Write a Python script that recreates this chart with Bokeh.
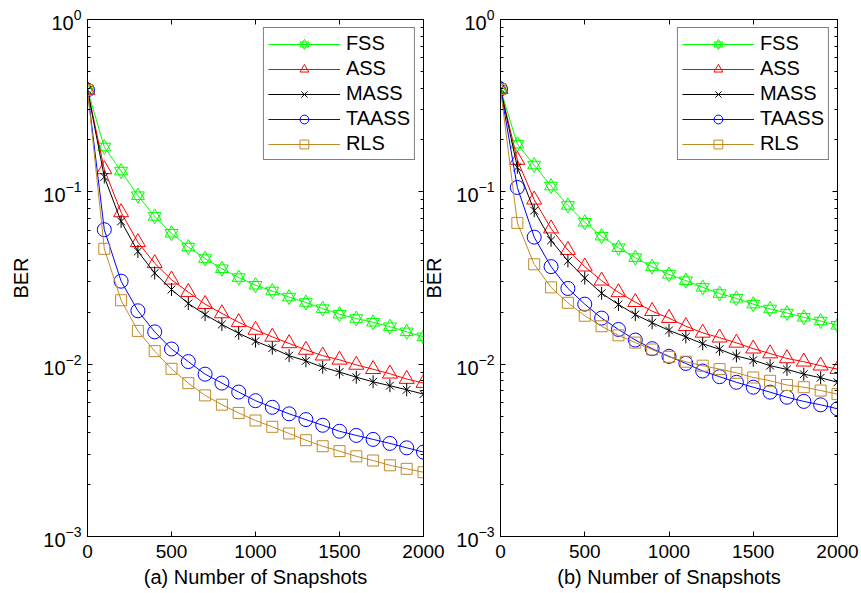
from bokeh.plotting import figure
from bokeh.models import Range1d, LinearAxis, LogAxis, LogTicker, SingleIntervalTicker, Legend, LegendItem
from bokeh.layouts import row
from bokeh.embed import file_html
from bokeh.resources import INLINE

snapshots = [0, 100, 200, 300, 400, 500, 600, 700, 800, 900, 1000,
             1100, 1200, 1300, 1400, 1500, 1600, 1700, 1800, 1900, 2000]

# panel (a)
fss_a = [0.39, 0.182, 0.132, 0.095, 0.072, 0.0575, 0.0478, 0.041, 0.0358, 0.0318, 0.0287,
         0.0266, 0.0245, 0.0228, 0.021, 0.0195, 0.0184, 0.0175, 0.0165, 0.0154, 0.0144]
ass_a = [0.39, 0.135, 0.076, 0.051, 0.0385, 0.0309, 0.0262, 0.0223, 0.0197, 0.0175, 0.0158,
         0.0144, 0.0132, 0.0121, 0.0112, 0.0106, 0.0099, 0.00935, 0.0088, 0.0082, 0.00777]
mass_a = [0.39, 0.122, 0.0674, 0.0451, 0.0338, 0.0271, 0.0225, 0.0194, 0.017, 0.0151, 0.0136,
          0.0124, 0.0112, 0.01045, 0.0096, 0.009, 0.0084, 0.0079, 0.0075, 0.0071, 0.0067]
taass_a = [0.39, 0.0603, 0.0303, 0.0204, 0.0154, 0.01225, 0.01035, 0.00875, 0.00777, 0.00689, 0.00614,
           0.00562, 0.00515, 0.00477, 0.00442, 0.00408, 0.00386, 0.00366, 0.00347, 0.00327, 0.00309]
rls_a = [0.39, 0.0467, 0.0235, 0.0156, 0.0119, 0.0094, 0.00776, 0.00659, 0.00582, 0.00521, 0.00471,
         0.00433, 0.00396, 0.00362, 0.00334, 0.00313, 0.00292, 0.00276, 0.00259, 0.00247, 0.00236]

# panel (b)
fss_b = [0.395, 0.189, 0.143, 0.108, 0.0834, 0.0666, 0.0553, 0.0474, 0.0415, 0.0368, 0.0332,
         0.0305, 0.0279, 0.0257, 0.0241, 0.0223, 0.0209, 0.0198, 0.0187, 0.0178, 0.0168]
ass_b = [0.395, 0.153, 0.090, 0.0612, 0.0459, 0.0368, 0.0305, 0.0261, 0.0229, 0.0203, 0.0185,
         0.0166, 0.0152, 0.01425, 0.0133, 0.0123, 0.01153, 0.0108, 0.01033, 0.0098, 0.00936]
mass_b = [0.395, 0.139, 0.0778, 0.0523, 0.0397, 0.0316, 0.0258, 0.0222, 0.0194, 0.0174, 0.0157,
          0.0144, 0.01314, 0.0122, 0.01116, 0.01054, 0.0098, 0.00932, 0.00875, 0.00834, 0.00785]
taass_b = [0.395, 0.106, 0.0546, 0.0368, 0.0275, 0.0223, 0.0185, 0.0159, 0.0138, 0.0123, 0.0111,
           0.0101, 0.00912, 0.00846, 0.00785, 0.00735, 0.00688, 0.00643, 0.00608, 0.00581, 0.00551]
rls_b = [0.395, 0.066, 0.038, 0.0279, 0.0227, 0.0191, 0.0166, 0.0147, 0.01334, 0.01216, 0.01103,
         0.01033, 0.0098, 0.00936, 0.00891, 0.00837, 0.00801, 0.00757, 0.00735, 0.00703, 0.0067]

series_names = ["FSS", "ASS", "MASS", "TAASS", "RLS"]
series_colors = ["#00FF00", "#FF0000", "#000000", "#0000FF", "#C08A2A"]
x_label_a = "(a) Number of Snapshots"
x_label_b = "(b) Number of Snapshots"
y_label = "BER"

FONT = "Liberation Sans"


def make_panel(xlabel, data, border_left, border_right, total_w):
    p = figure(width=total_w, height=593,
               y_axis_type="log", x_range=Range1d(0, 2000), y_range=Range1d(1e-3, 1),
               output_backend="svg", toolbar_location=None,
               min_border_left=border_left, min_border_right=border_right,
               min_border_top=19, min_border_bottom=57)
    p.grid.visible = False
    p.outline_line_color = "black"
    p.outline_line_width = 1
    p.background_fill_color = "white"
    p.border_fill_color = None

    xt = SingleIntervalTicker(interval=500, num_minor_ticks=0)
    yt = LogTicker(desired_num_ticks=4, num_minor_ticks=10)

    xa = p.xaxis[0]
    xa.ticker = xt
    ya = p.yaxis[0]
    ya.ticker = yt
    for ax in (xa, ya):
        ax.major_tick_in = 5
        ax.major_tick_out = 0
        ax.minor_tick_in = 3
        ax.minor_tick_out = 0
        ax.axis_line_color = "black"
        ax.major_tick_line_color = "black"
        ax.minor_tick_line_color = "black"
        ax.major_label_text_font = FONT
        ax.major_label_text_font_size = "19px"
        ax.major_label_text_color = "black"
        ax.axis_label_text_font = FONT
        ax.axis_label_text_font_size = "20px"
        ax.axis_label_text_font_style = "normal"
        ax.axis_label_text_color = "black"
    xa.major_label_standoff = 8
    xa.axis_label_standoff = 5
    xa.axis_label = xlabel
    ya.major_label_text_font_size = "20px"
    ya.major_label_standoff = 6
    ya.axis_label_standoff = 8
    ya.axis_label = y_label

    top = LinearAxis(ticker=xt, major_tick_in=5, major_tick_out=0, minor_tick_in=0, minor_tick_out=0,
                     major_label_text_font_size="6px", major_label_text_alpha=0, major_label_standoff=0,
                     axis_line_color="black", major_tick_line_color="black")
    p.add_layout(top, "above")
    right = LogAxis(ticker=yt, major_tick_in=5, major_tick_out=0, minor_tick_in=3, minor_tick_out=0,
                    major_label_text_font_size="6px", major_label_text_alpha=0, major_label_standoff=0,
                    axis_line_color="black", major_tick_line_color="black", minor_tick_line_color="black")
    p.add_layout(right, "right")

    items = []
    for name, color, ys in zip(series_names, series_colors, data):
        rs = [p.line(snapshots, ys, line_color=color, line_width=1)]
        if name == "FSS":
            rs.append(p.scatter(snapshots, ys, marker="triangle", size=13, fill_color=None, line_color=color, line_width=1))
            rs.append(p.scatter(snapshots, ys, marker="inverted_triangle", size=13, fill_color=None, line_color=color, line_width=1))
        elif name == "ASS":
            rs.append(p.scatter(snapshots, ys, marker="triangle", size=15, fill_color=None, line_color=color, line_width=1))
        elif name == "MASS":
            rs.append(p.scatter(snapshots, ys, marker="x", size=11, fill_color=None, line_color=color, line_width=1))
            rs.append(p.scatter(snapshots, ys, marker="dash", size=13, angle=1.5708, fill_color=None, line_color=color, line_width=1))
        elif name == "TAASS":
            rs.append(p.scatter(snapshots, ys, marker="circle", size=14, fill_color=None, line_color=color, line_width=1))
        else:
            rs.append(p.scatter(snapshots, ys, marker="square", size=11, fill_color=None, line_color=color, line_width=1))
        items.append(LegendItem(label=name, renderers=rs))

    leg = Legend(items=items, location="top_right", margin=8, padding=4, spacing=2,
                 glyph_width=72, glyph_height=22, label_height=22, label_standoff=6,
                 label_text_font=FONT, label_text_font_size="20px", label_text_color="black",
                 border_line_color="black", border_line_width=1, background_fill_color="white",
                 background_fill_alpha=1)
    p.add_layout(leg, "center")
    return p


p1 = make_panel(x_label_a, [fss_a, ass_a, mass_a, taass_a, rls_a], 87, 22, 445)
p2 = make_panel(x_label_b, [fss_b, ass_b, mass_b, taass_b, rls_b], 79, 24, 441)
p2.margin = (0, 0, 0, -25)

layout = row(p1, p2, spacing=0)
open("out.html", "w").write(file_html(layout, INLINE))
